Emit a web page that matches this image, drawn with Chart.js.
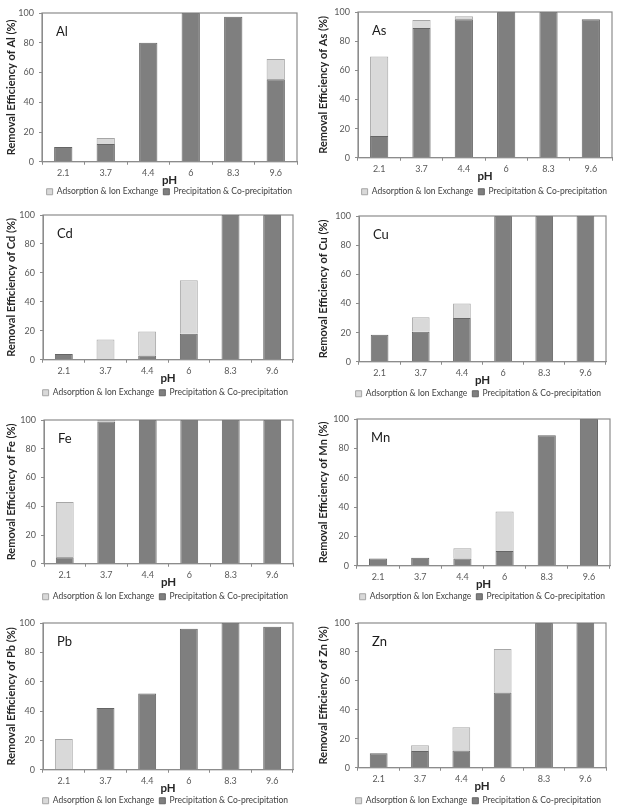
<!DOCTYPE html>
<html>
<head>
<meta charset="utf-8">
<script src="https://cdn.jsdelivr.net/npm/chart.js@4.4.1/dist/chart.umd.min.js"></script>
<style>
  body { margin: 0; background: #fff; }
  #wrap { position: relative; width: 618px; height: 810px; overflow: hidden; }
  #wrap canvas { position: absolute; }
</style>
</head>
<body>
<div id="wrap"></div>
<script>
// categories and tick labels
const phLabels = ['2.1', '3.7', '4.4', '6', '8.3', '9.6'];
const metals = ['Al', 'As', 'Cd', 'Cu', 'Fe', 'Mn', 'Pb', 'Zn'];
const yTicks = [0, 20, 40, 60, 80, 100];
const seriesNames = ['Precipitation & Co-precipitation', 'Adsorption & Ion Exchange'];

// Precipitation & Co-precipitation (dark part, bottom of each bar)
const precipAl = [10, 12, 80, 100, 97.5, 55.5];
const precipAs = [15, 89, 95, 100, 100, 95];
const precipCd = [4, 0, 3, 18, 100, 100];
const precipCu = [18.5, 20.5, 30, 100, 100, 100];
const precipFe = [4.5, 99, 100, 100, 100, 100];
const precipMn = [5, 5.5, 5, 10, 89, 100];
const precipPb = [0, 42, 52, 96, 100, 97.5];
const precipZn = [10, 11.5, 12, 52, 100, 100];

// Adsorption & Ion Exchange (light part, stacked on top)
const adsorbAl = [0, 4, 0, 0, 0, 13.5];
const adsorbAs = [54.5, 5.5, 2, 0, 0, 0];
const adsorbCd = [0, 14, 16.5, 37, 0, 0];
const adsorbCu = [0, 10, 10, 0, 0, 0];
const adsorbFe = [38.5, 1, 0, 0, 0, 0];
const adsorbMn = [0, 0, 7, 27, 0, 0];
const adsorbPb = [21, 0, 0, 0, 0, 0];
const adsorbZn = [0, 4, 16, 30, 0, 0];

const precipAll = [precipAl, precipAs, precipCd, precipCu, precipFe, precipMn, precipPb, precipZn];
const adsorbAll = [adsorbAl, adsorbAs, adsorbCd, adsorbCu, adsorbFe, adsorbMn, adsorbPb, adsorbZn];

// page layout: cell origin, plot area edges and legend centre line (page pixels)
const panels = [
    { x: 0,   y: 0,   l: 42,  r: 297, t: 13,  b: 162, lg: 192 },
    { x: 309, y: 0,   l: 358, r: 612, t: 12,  b: 158, lg: 192 },
    { x: 0,   y: 200, l: 43,  r: 293, t: 215, b: 360, lg: 393 },
    { x: 309, y: 200, l: 359, r: 606, t: 216, b: 362, lg: 394 },
    { x: 0,   y: 400, l: 44,  r: 293, t: 420, b: 564, lg: 597 },
    { x: 309, y: 400, l: 357, r: 610, t: 419, b: 566, lg: 597 },
    { x: 0,   y: 600, l: 43,  r: 293, t: 623, b: 770, lg: 801 },
    { x: 309, y: 600, l: 358, r: 606, t: 623, b: 768, lg: 801 }
];

const FONT = 'Lato, "Liberation Sans", Arial, sans-serif';
const darkFill = '#7f7f7f';
const darkLine = '#656565';
const lightFill = '#d9d9d9';
const lightLine = '#a6a6a6';
const frameColor = '#8c8c8c';

// frame around the plot area + the metal name in the corner
const frameAndLabel = {
    id: 'frameAndLabel',
    afterDatasetsDraw(chart, args, opts) {
        const { ctx, chartArea: a } = chart;
        ctx.save();
        ctx.strokeStyle = frameColor;
        ctx.lineWidth = 1.2;
        ctx.strokeRect(a.left, a.top, a.right - a.left, a.bottom - a.top);
        ctx.fillStyle = '#1a1a1a';
        ctx.font = '13px ' + FONT;
        ctx.textBaseline = 'middle';
        ctx.textAlign = 'left';
        ctx.fillText(opts.text, a.left + 14, a.top + 19);
        ctx.restore();
    }
};

const wrap = document.getElementById('wrap');
const cellW = 309;
const legendFont = 8.5;
const legendBox = 6;
const legendPad = 5;
const legendH = Math.max(legendFont, legendBox) + legendPad + 10;
const pHFont = 11.5;

// no outline on empty segments
const segBorder = ctx => (ctx.raw > 0 ? 1 : 0);

// legend boxes always get an outline
function legendItems(chart) {
    const items = Chart.defaults.plugins.legend.labels.generateLabels(chart);
    items.forEach(it => { it.lineWidth = 1; });
    return items;
}

panels.forEach((p, i) => {
    const metal = metals[i];
    const padLeft = p.x === 0 ? 5 : 8;
    const xh = p.lg - p.b - (legendPad + legendFont / 2);
    const ch = (p.b - p.y) + xh + legendH;

    const canvas = document.createElement('canvas');
    canvas.width = cellW;
    canvas.height = ch;
    canvas.style.left = p.x + 'px';
    canvas.style.top = p.y + 'px';
    wrap.appendChild(canvas);

    new Chart(canvas.getContext('2d'), {
        type: 'bar',
        data: {
            labels: phLabels,
            datasets: [
                {
                    label: seriesNames[0],
                    data: precipAll[i],
                    backgroundColor: darkFill,
                    borderColor: darkLine,
                    borderWidth: segBorder
                },
                {
                    label: seriesNames[1],
                    data: adsorbAll[i],
                    backgroundColor: lightFill,
                    borderColor: lightLine,
                    borderWidth: segBorder
                }
            ]
        },
        options: {
            responsive: false,
            animation: false,
            devicePixelRatio: 1,
            layout: {
                padding: { left: padLeft, top: p.t - p.y, right: p.x + cellW - p.r, bottom: 0 }
            },
            datasets: {
                bar: { categoryPercentage: 1, barPercentage: 0.43 }
            },
            scales: {
                x: {
                    stacked: true,
                    grid: { offset: true, drawOnChartArea: false, drawTicks: true, tickLength: 3, color: frameColor },
                    border: { color: frameColor },
                    ticks: { color: '#595959', font: { family: FONT, size: 9 }, padding: 3, maxRotation: 0 },
                    title: {
                        display: true,
                        text: 'pH',
                        color: '#262626',
                        font: { family: FONT, size: pHFont, weight: 'bold' },
                        padding: { top: 0, bottom: xh - 19 - pHFont * 0.6 }
                    },
                    afterFit(scale) { scale.height = xh; }
                },
                y: {
                    stacked: true,
                    min: 0,
                    max: 100,
                    afterBuildTicks(scale) { scale.ticks = yTicks.map(v => ({ value: v })); },
                    grid: { drawOnChartArea: false, drawTicks: true, tickLength: 3, color: frameColor },
                    border: { color: frameColor },
                    ticks: { color: '#595959', font: { family: FONT, size: 9 }, padding: 5 },
                    title: {
                        display: true,
                        text: 'Removal Efficiency of ' + metal + ' (%)',
                        color: '#262626',
                        font: { family: FONT, size: 11, weight: 'bold' },
                        padding: { top: 0, bottom: 0 }
                    },
                    afterFit(scale) { scale.width = p.l - p.x - padLeft; }
                }
            },
            plugins: {
                legend: {
                    position: 'bottom',
                    fullSize: true,
                    align: 'end',
                    reverse: true,
                    labels: {
                        boxWidth: legendBox,
                        boxHeight: legendBox,
                        padding: legendPad,
                        color: '#404040',
                        font: { family: FONT, size: legendFont },
                        generateLabels: legendItems
                    }
                },
                tooltip: { enabled: false },
                frameAndLabel: { text: metal }
            }
        },
        plugins: [frameAndLabel]
    });
});
</script>
</body>
</html>
